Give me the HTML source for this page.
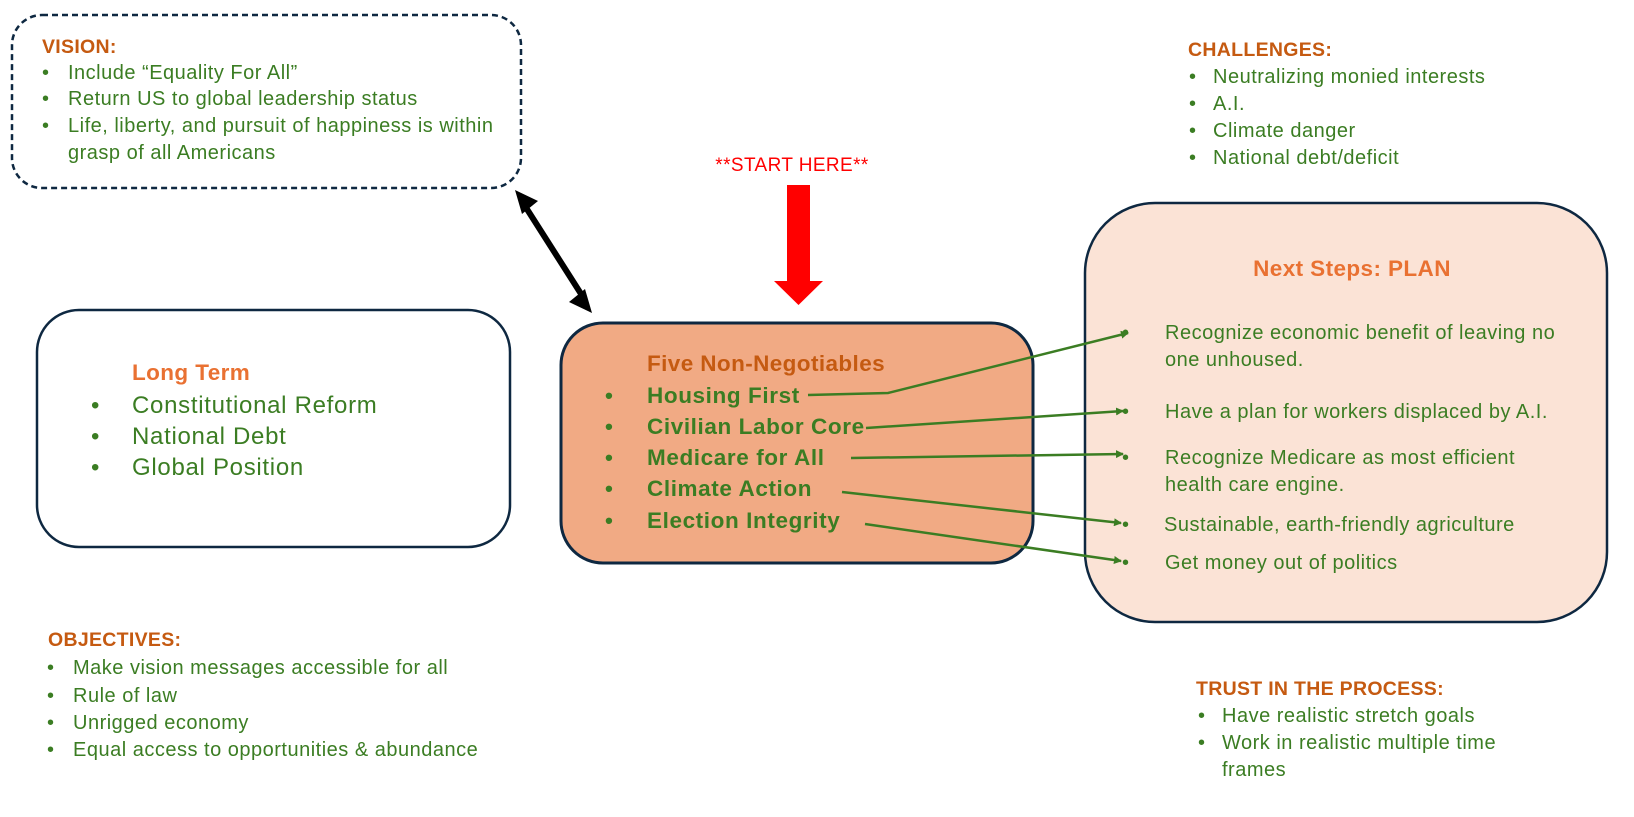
<!DOCTYPE html>
<html><head><meta charset="utf-8"><style>
html,body{margin:0;padding:0;background:#fff;}
svg{display:block;font-family:"Liberation Sans",sans-serif;}
.h{fill:#C55A11;font-weight:bold;font-size:19.5px;letter-spacing:0.3px;}
.g{fill:#3B7D23;font-size:20px;letter-spacing:0.5px;}
.gb{fill:#3B7D23;font-size:22.5px;font-weight:bold;letter-spacing:0.6px;}
.o{fill:#E97132;font-weight:bold;font-size:22.5px;letter-spacing:0.4px;}
</style></head><body>
<svg width="1634" height="817" viewBox="0 0 1634 817" xmlns="http://www.w3.org/2000/svg">
<defs>
<marker id="ga" markerWidth="8" markerHeight="8" refX="7" refY="4" orient="auto" markerUnits="userSpaceOnUse" viewBox="0 0 8 8"><path d="M0,0 L8,4 L0,8 z" fill="#3B7D23"/></marker>
</defs>
<rect x="12" y="15" width="509" height="173" rx="30" fill="#fff" stroke="#0E2841" stroke-width="2.5" stroke-dasharray="6,4"/>
<text x="42" y="53" class="h">VISION:</text>
<g class="g">
<text x="42" y="79">•</text><text x="68" y="79">Include “Equality For All”</text>
<text x="42" y="105">•</text><text x="68" y="105">Return US to global leadership status</text>
<text x="42" y="132">•</text><text x="68" y="132">Life, liberty, and pursuit of happiness is within</text>
<text x="68" y="159">grasp of all Americans</text>
</g>
<text x="1188" y="56" class="h">CHALLENGES:</text>
<g class="g">
<text x="1189" y="83">•</text><text x="1213" y="83">Neutralizing monied interests</text>
<text x="1189" y="110">•</text><text x="1213" y="110">A.I.</text>
<text x="1189" y="137">•</text><text x="1213" y="137">Climate danger</text>
<text x="1189" y="164">•</text><text x="1213" y="164">National debt/deficit</text>
</g>
<text x="792" y="171" text-anchor="middle" fill="#FF0000" font-size="19" letter-spacing="0.4">**START HERE**</text>
<path d="M787,185 L810,185 L810,281 L823,281 L798.5,305 L774,281 L787,281 z" fill="#FF0000"/>
<line x1="525" y1="206" x2="583" y2="297" stroke="#000" stroke-width="6"/>
<path d="M515,190 L538,201 L522,214 z" fill="#000"/>
<path d="M592,313 L569,302 L585,289 z" fill="#000"/>
<rect x="37" y="310" width="473" height="237" rx="42" fill="#fff" stroke="#0E2841" stroke-width="2.5"/>
<text x="132" y="380" class="o">Long Term</text>
<g class="g" style="font-size:24px;letter-spacing:0.7px">
<text x="91" y="413">•</text><text x="132" y="413">Constitutional Reform</text>
<text x="91" y="444">•</text><text x="132" y="444">National Debt</text>
<text x="91" y="475">•</text><text x="132" y="475">Global Position</text>
</g>
<rect x="561" y="323" width="472" height="240" rx="42" fill="#F1AA84" stroke="#0E2841" stroke-width="3"/>
<text x="647" y="371" class="o" style="fill:#C55A11">Five Non-Negotiables</text>
<g class="gb">
<text x="605" y="403">•</text><text x="647" y="403">Housing First</text>
<text x="605" y="434">•</text><text x="647" y="434">Civilian Labor Core</text>
<text x="605" y="465">•</text><text x="647" y="465">Medicare for All</text>
<text x="605" y="496">•</text><text x="647" y="496">Climate Action</text>
<text x="605" y="528">•</text><text x="647" y="528">Election Integrity</text>
</g>
<rect x="1085" y="203" width="522" height="419" rx="70" fill="#FBE3D6" stroke="#0E2841" stroke-width="2.5"/>
<text x="1352" y="276" text-anchor="middle" class="o">Next Steps: PLAN</text>
<g class="g">
<text x="1122" y="339">•</text><text x="1165" y="339">Recognize economic benefit of leaving no</text>
<text x="1165" y="366">one unhoused.</text>
<text x="1122" y="418">•</text><text x="1165" y="418">Have a plan for workers displaced by A.I.</text>
<text x="1122" y="464">•</text><text x="1165" y="464">Recognize Medicare as most efficient</text>
<text x="1165" y="491">health care engine.</text>
<text x="1122" y="531">•</text><text x="1164" y="531">Sustainable, earth-friendly agriculture</text>
<text x="1122" y="569">•</text><text x="1165" y="569">Get money out of politics</text>
</g>
<g stroke="#3B7D23" stroke-width="2.5" fill="none" marker-end="url(#ga)">
<polyline points="808,395 888,393 1128,333"/>
<line x1="866" y1="428" x2="1123" y2="411"/>
<line x1="851" y1="458" x2="1123" y2="454"/>
<line x1="842" y1="492" x2="1121" y2="523"/>
<line x1="865" y1="524" x2="1121" y2="561"/>
</g>
<text x="48" y="646" class="h">OBJECTIVES:</text>
<g class="g">
<text x="47" y="674">•</text><text x="73" y="674">Make vision messages accessible for all</text>
<text x="47" y="702">•</text><text x="73" y="702">Rule of law</text>
<text x="47" y="729">•</text><text x="73" y="729">Unrigged economy</text>
<text x="47" y="756">•</text><text x="73" y="756">Equal access to opportunities &amp; abundance</text>
</g>
<text x="1196" y="695" class="h">TRUST IN THE PROCESS:</text>
<g class="g">
<text x="1198" y="722">•</text><text x="1222" y="722">Have realistic stretch goals</text>
<text x="1198" y="749">•</text><text x="1222" y="749">Work in realistic multiple time</text>
<text x="1222" y="776">frames</text>
</g>
</svg>
</body></html>
